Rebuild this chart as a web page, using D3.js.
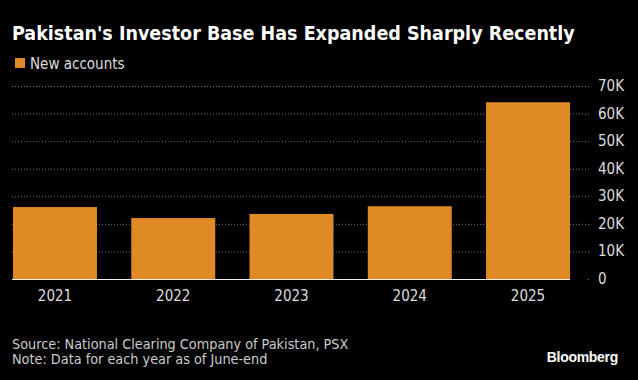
<!DOCTYPE html>
<html>
<head>
<meta charset="utf-8">
<script src="https://cdn.jsdelivr.net/npm/d3@7"></script>
<style>
  html, body { margin: 0; padding: 0; background: #000; }
  svg { display: block; }
</style>
</head>
<body>
<svg id="chart" width="638" height="380"></svg>
<script>
const years = ["2021", "2022", "2023", "2024", "2025"];
const newAccounts = [26100, 22100, 23600, 26400, 64100];
const yTicks = [0, 10000, 20000, 30000, 40000, 50000, 60000, 70000];
const yTickLabels = ["0", "10K", "20K", "30K", "40K", "50K", "60K", "70K"];

const svg = d3.select("#chart");
const W = 638, H = 380;
const margin = { top: 86, right: 68, bottom: 101, left: 12 };
const plotRight = 570;
const gridRight = 590;
const y0 = H - margin.bottom;

svg.append("rect").attr("width", W).attr("height", H).attr("fill", "#000");

const x = d3.scaleBand()
  .domain(years)
  .range([13, plotRight])
  .paddingInner(0.29)
  .paddingOuter(0);

const y = d3.scaleLinear()
  .domain([0, 70000])
  .range([y0, margin.top]);

const font = "'DejaVu Sans Condensed', sans-serif";

// title
svg.append("text")
  .attr("x", 12).attr("y", 40)
  .attr("fill", "#fff")
  .attr("font-family", "'DejaVu Sans Condensed', 'DejaVu Sans', sans-serif")
  .attr("font-weight", "bold")
  .attr("font-size", 19.5)
  .text("Pakistan's Investor Base Has Expanded Sharply Recently");

// legend
svg.append("rect")
  .attr("x", 15).attr("y", 58).attr("width", 10).attr("height", 10)
  .attr("fill", "#df8a25");
svg.append("text")
  .attr("x", 30).attr("y", 69)
  .attr("fill", "#ddd")
  .attr("font-family", font)
  .attr("font-size", 15)
  .text("New accounts");

// grid lines
svg.append("g")
  .selectAll("line")
  .data(yTicks.filter(d => d > 0))
  .join("line")
  .attr("x1", margin.left).attr("x2", gridRight)
  .attr("y1", d => y(d) + 0.5).attr("y2", d => y(d) + 0.5)
  .attr("stroke", "#777")
  .attr("stroke-width", 1)
  .attr("stroke-dasharray", "1,2");

// small mark at zero
svg.append("line")
  .attr("x1", gridRight - 2).attr("x2", gridRight)
  .attr("y1", y(0) + 0.5).attr("y2", y(0) + 0.5)
  .attr("stroke", "#777")
  .attr("stroke-dasharray", "1,2");

// bars
svg.append("g")
  .selectAll("rect")
  .data(years.map((yr, i) => ({ yr, v: newAccounts[i] })))
  .join("rect")
  .attr("x", d => x(d.yr))
  .attr("width", x.bandwidth())
  .attr("y", d => y(d.v))
  .attr("height", d => y(0) - y(d.v))
  .attr("fill", "#df8a25");

// baseline
svg.append("line")
  .attr("x1", margin.left).attr("x2", plotRight)
  .attr("y1", y(0) + 0.5).attr("y2", y(0) + 0.5)
  .attr("stroke", "#eee")
  .attr("stroke-width", 1.2);

// y axis labels
svg.append("g")
  .selectAll("text")
  .data(yTicks)
  .join("text")
  .attr("x", 598)
  .attr("y", d => y(d) + 5)
  .attr("fill", "#ddd")
  .attr("font-family", font)
  .attr("font-size", 15)
  .text((d, i) => yTickLabels[i]);

// x axis labels
svg.append("g")
  .selectAll("text")
  .data(years)
  .join("text")
  .attr("x", d => x(d) + x.bandwidth() / 2)
  .attr("y", 301)
  .attr("text-anchor", "middle")
  .attr("fill", "#ddd")
  .attr("font-family", font)
  .attr("font-size", 15)
  .text(d => d);

// footer
svg.append("text")
  .attr("x", 12).attr("y", 349)
  .attr("fill", "#ccc")
  .attr("font-family", font)
  .attr("font-size", 14.3)
  .text("Source: National Clearing Company of Pakistan, PSX");
svg.append("text")
  .attr("x", 12).attr("y", 364)
  .attr("fill", "#ccc")
  .attr("font-family", font)
  .attr("font-size", 14.3)
  .text("Note: Data for each year as of June-end");

svg.append("text")
  .attr("x", 618).attr("y", 362)
  .attr("text-anchor", "end")
  .attr("fill", "#fff")
  .attr("font-family", "'Liberation Sans', Arial, sans-serif")
  .attr("font-weight", "bold")
  .attr("font-size", 14)
  .attr("letter-spacing", -0.3)
  .text("Bloomberg");
</script>
</body>
</html>
